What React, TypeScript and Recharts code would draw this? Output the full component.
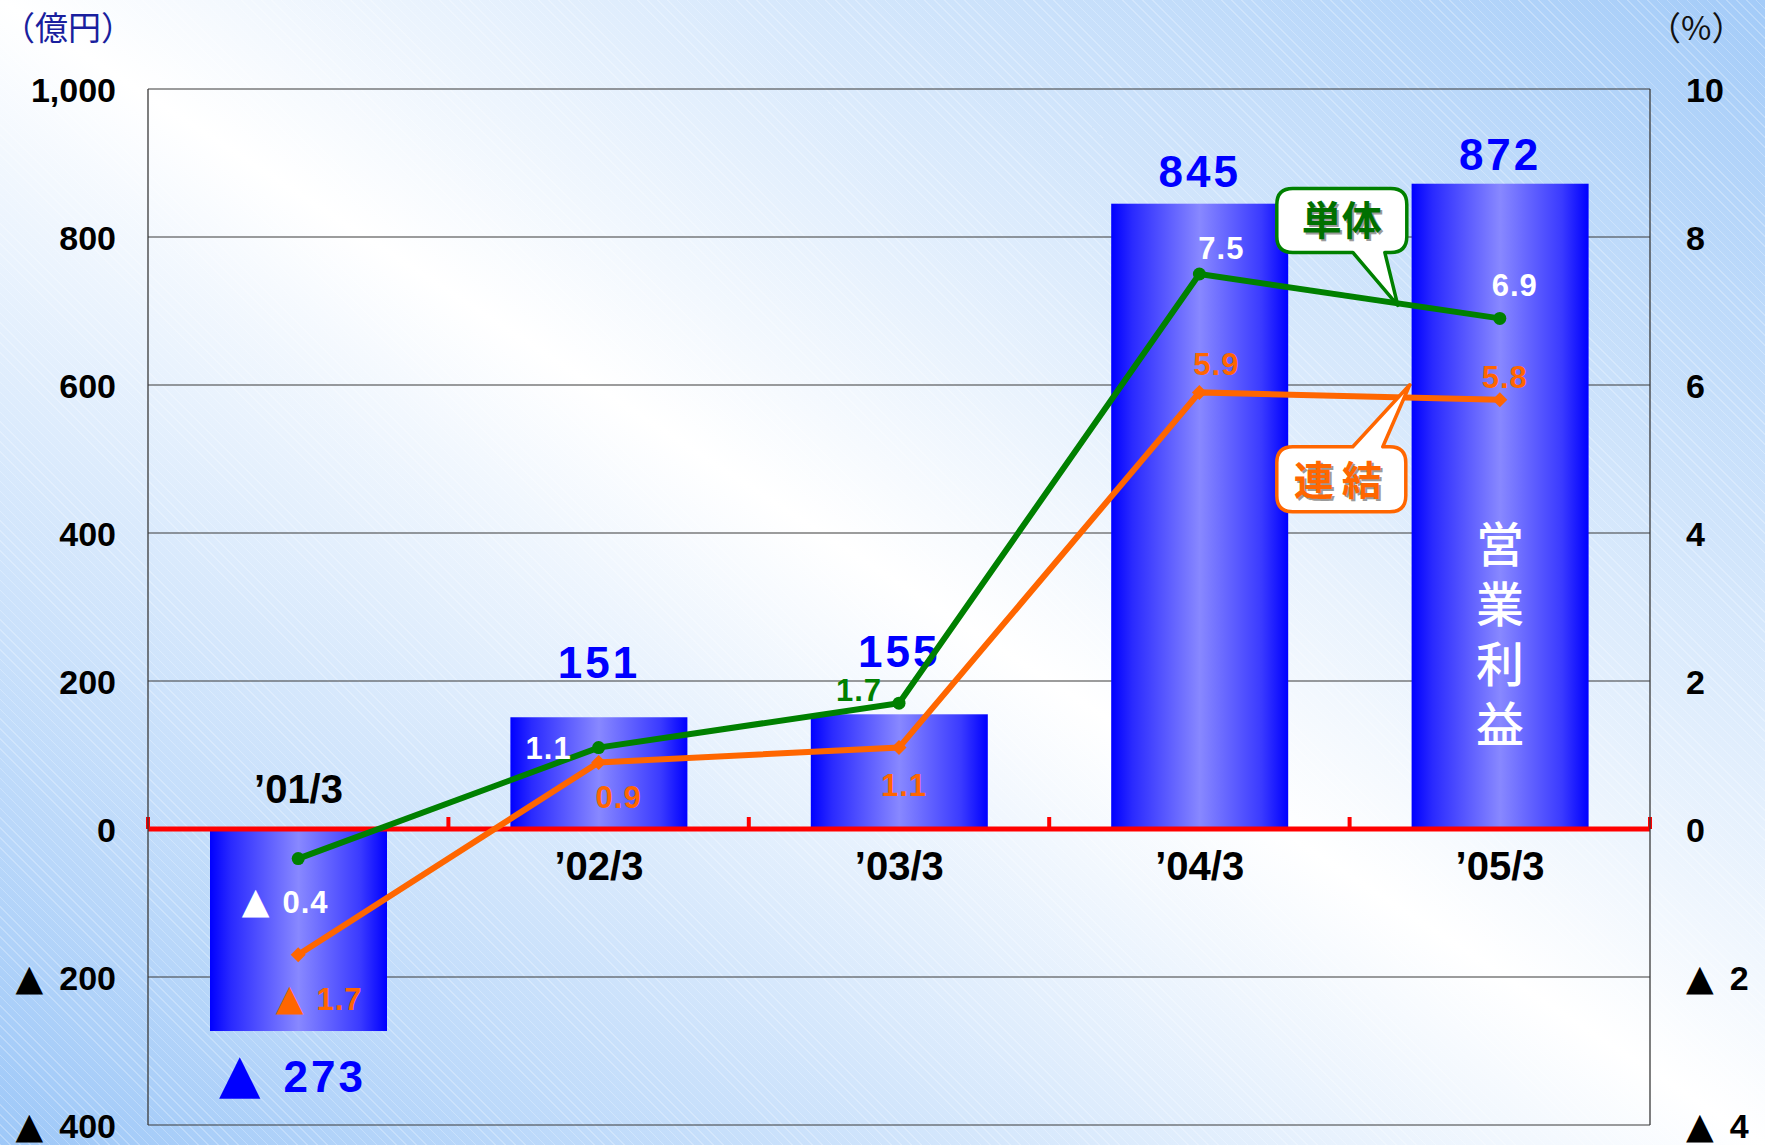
import React from "react";
import {
  ComposedChart,
  Bar,
  Line,
  XAxis,
  YAxis,
  CartesianGrid,
  ReferenceLine,
} from "recharts";

// 営業利益（億円）と営業利益率（%）
const categories = ["’01/3", "’02/3", "’03/3", "’04/3", "’05/3"];
const operatingProfit = [-273, 151, 155, 845, 872];
const marginStandalone = [-0.4, 1.1, 1.7, 7.5, 6.9]; // 単体
const marginConsolidated = [-1.7, 0.9, 1.1, 5.9, 5.8]; // 連結
const leftTicks = [-400, -200, 0, 200, 400, 600, 800, 1000];
const rightTicks = [-4, -2, 0, 2, 4, 6, 8, 10];

const data = categories.map((cat, i) => ({
  cat,
  profit: operatingProfit[i],
  tan: marginStandalone[i],
  ren: marginConsolidated[i],
}));

const GREEN = "#008000";
const ORANGE = "#ff6600";
const BLUE = "#0000ff";
const NUM = "'Liberation Sans', Arial, sans-serif";
const JP = "'Noto Sans CJK JP', sans-serif";
const TRI = "'DejaVu Sans', sans-serif";

// label nudges (centre of label relative to the point)
const greenNudge = [
  [-13, 43],
  [-50, 0],
  [-40, -13],
  [22, -26],
  [15, -33],
];
const orangeNudge = [
  [21, 44],
  [20, 35],
  [5, 37],
  [17, -28],
  [5, -23],
];
const barLabelLift = [45, 55, 63, 33, 30];

const fmt = (v: number) => v.toLocaleString("en-US");

const LeftTick = (props: any) => {
  const { x, y, payload } = props;
  const v = payload.value;
  return (
    <text x={x} y={y} dy={13} textAnchor="end" fontFamily={NUM} fontWeight="bold" fontSize={34} fill="#000">
      {v < 0 ? (
        <>
          <tspan fontFamily={TRI} fontSize={36}>▲</tspan>
          <tspan dx={16}>{fmt(-v)}</tspan>
        </>
      ) : (
        fmt(v)
      )}
    </text>
  );
};

const RightTick = (props: any) => {
  const { x, y, payload } = props;
  const v = payload.value;
  return (
    <text x={x} y={y} dy={13} textAnchor="start" fontFamily={NUM} fontWeight="bold" fontSize={34} fill="#000">
      {v < 0 ? (
        <>
          <tspan fontFamily={TRI} fontSize={36}>▲</tspan>
          <tspan dx={16}>{-v}</tspan>
        </>
      ) : (
        v
      )}
    </text>
  );
};

const ZeroLine = (p: any) => {
  const { x1, y1, x2 } = p;
  const n = categories.length;
  const step = (x2 - x1) / n;
  return (
    <g>
      <line x1={x1} y1={y1} x2={x2} y2={y1} stroke="#ff0000" strokeWidth={5} />
      {Array.from({ length: n + 1 }, (_, i) => (
        <line key={i} x1={x1 + i * step} x2={x1 + i * step} y1={y1} y2={y1 - 12} stroke="#ff0000" strokeWidth={4} />
      ))}
    </g>
  );
};

const ProfitBar = (p: any) => {
  const { x, y, width, height, index } = p;
  const v = operatingProfit[index];
  const top = Math.min(y, y + height);
  const bottom = Math.max(y, y + height);
  const zeroY = v >= 0 ? bottom : top;
  const cx = x + width / 2;
  const lift = barLabelLift[index];
  return (
    <g>
      <rect x={x} y={top} width={width} height={bottom - top} fill="url(#barGrad)" />
      {v >= 0 ? (
        <text x={cx} y={top - lift + 16} textAnchor="middle" fontFamily={NUM} fontWeight="bold" fontSize={44} letterSpacing={3} fill={BLUE}>
          {v}
        </text>
      ) : (
        <text x={cx - 6} y={bottom + lift + 16} textAnchor="middle" fontFamily={NUM} fontWeight="bold" fontSize={44} letterSpacing={3} fill={BLUE}>
          <tspan fontFamily={TRI} fontSize={54}>▲</tspan>
          <tspan dx={20}>{-v}</tspan>
        </text>
      )}
      <text
        x={cx}
        y={(v >= 0 ? zeroY + 37 : zeroY - 40) + 14}
        textAnchor="middle"
        fontFamily={NUM}
        fontWeight="bold"
        fontSize={40}
        fill="#000"
      >
        {categories[index]}
      </text>
      {index === categories.length - 1 &&
        "営業利益".split("").map((ch, i) => (
          <text
            key={i}
            x={cx}
            y={zeroY - 267 + i * 60}
            textAnchor="middle"
            fontFamily={JP}
            fontWeight={500}
            fontSize={48}
            fill="#fff"
          >
            {ch}
          </text>
        ))}
    </g>
  );
};

const ValueText = ({ x, y, v, color }: { x: number; y: number; v: number; color: string }) => (
  <text x={x} y={y + 11} textAnchor="middle" fontFamily={NUM} fontWeight="bold" fontSize={31} letterSpacing={1} fill={color}>
    {v < 0 ? (
      <>
        <tspan fontFamily={TRI} fontSize={36}>▲</tspan>
        <tspan dx={12}>{(-v).toFixed(1)}</tspan>
      </>
    ) : (
      v.toFixed(1)
    )}
  </text>
);

const bubble = (
  x0: number, y0: number, x1: number, y1: number, r: number,
  a: number, b: number, tx: number, ty: number, side: "top" | "bottom"
) =>
  side === "bottom"
    ? `M${x0 + r},${y0} H${x1 - r} Q${x1},${y0} ${x1},${y0 + r} V${y1 - r} Q${x1},${y1} ${x1 - r},${y1} H${b} L${tx},${ty} L${a},${y1} H${x0 + r} Q${x0},${y1} ${x0},${y1 - r} V${y0 + r} Q${x0},${y0} ${x0 + r},${y0} Z`
    : `M${x0 + r},${y0} H${a} L${tx},${ty} L${b},${y0} H${x1 - r} Q${x1},${y0} ${x1},${y0 + r} V${y1 - r} Q${x1},${y1} ${x1 - r},${y1} H${x0 + r} Q${x0},${y1} ${x0},${y1 - r} V${y0 + r} Q${x0},${y0} ${x0 + r},${y0} Z`;

const GreenDot = (p: any) => {
  const { cx, cy, index } = p;
  if (cx == null || cy == null) return <g key={`g${index}`} />;
  const [dx, dy] = greenNudge[index];
  return (
    <g key={`g${index}`}>
      <circle cx={cx} cy={cy} r={6.5} fill={GREEN} />
      <ValueText x={cx + dx} y={cy + dy} v={marginStandalone[index]} color={index === 2 ? GREEN : "#fff"} />
      {index === categories.length - 1 && (
        <g>
          <path
            d={bubble(cx - 223, cy - 130, cx - 93, cy - 66, 16, cx - 147, cx - 115, cx - 102, cy - 13, "bottom")}
            fill="#fff"
            stroke={GREEN}
            strokeWidth={3.5}
            strokeLinejoin="round"
          />
          <text x={cx - 156} y={cy - 81} textAnchor="middle" fontFamily={JP} fontWeight="bold" fontSize={40} fill="#9a9a9a">
            単体
          </text>
          <text x={cx - 158} y={cy - 83} textAnchor="middle" fontFamily={JP} fontWeight="bold" fontSize={40} fill="#007000">
            単体
          </text>
        </g>
      )}
    </g>
  );
};

const OrangeDot = (p: any) => {
  const { cx, cy, index } = p;
  if (cx == null || cy == null) return <g key={`o${index}`} />;
  const [dx, dy] = orangeNudge[index];
  const s = 7.5;
  return (
    <g key={`o${index}`}>
      <path d={`M${cx},${cy - s} L${cx + s},${cy} L${cx},${cy + s} L${cx - s},${cy} Z`} fill={ORANGE} />
      <ValueText x={cx + dx} y={cy + dy} v={marginConsolidated[index]} color={ORANGE} />
      {index === categories.length - 1 && (
        <g>
          <path
            d={bubble(cx - 223, cy + 47, cx - 94, cy + 112, 16, cx - 147, cx - 117, cx - 90, cy - 15, "top")}
            fill="#fff"
            stroke={ORANGE}
            strokeWidth={3.5}
            strokeLinejoin="round"
          />
          <text x={cx - 156} y={cy + 97} textAnchor="middle" fontFamily={JP} fontWeight="bold" fontSize={40} letterSpacing={8} fill="#9a9a9a">
            連結
          </text>
          <text x={cx - 158} y={cy + 95} textAnchor="middle" fontFamily={JP} fontWeight="bold" fontSize={40} letterSpacing={8} fill={ORANGE}>
            連結
          </text>
        </g>
      )}
    </g>
  );
};

export default function App() {
  return (
    <div
      style={{
        position: "absolute",
        left: 0,
        top: 0,
        width: 1765,
        height: 1145,
        overflow: "hidden",
        background: "linear-gradient(to top right, #9ec8f8 0%, #ffffff 50%, #a3cbf8 100%)",
      }}
    >
      <div
        style={{
          position: "absolute",
          inset: 0,
          backgroundImage:
            "repeating-linear-gradient(45deg, rgba(255,255,255,0.25) 0px, rgba(255,255,255,0.25) 1px, transparent 1px, transparent 7px)",
        }}
      />
      <svg width={0} height={0} style={{ position: "absolute" }}>
        <defs>
          <linearGradient id="barGrad" x1="0" y1="0" x2="1" y2="0">
            <stop offset="0" stopColor="#0000ff" />
            <stop offset="0.12" stopColor="#2a2aff" />
            <stop offset="0.5" stopColor="#8888ff" />
            <stop offset="0.85" stopColor="#3a3aff" />
            <stop offset="1" stopColor="#0000ff" />
          </linearGradient>
        </defs>
      </svg>
      <div style={{ position: "absolute", left: 2, top: 10, fontFamily: JP, fontSize: 33, lineHeight: 1, color: "#1a1f9e" }}>
        （億円）
      </div>
      <div style={{ position: "absolute", left: 1648, top: 10, fontFamily: JP, fontSize: 33, lineHeight: 1, color: "#111" }}>
        （%）
      </div>
      <div style={{ position: "absolute", left: 0, top: 0 }}>
        <ComposedChart width={1765} height={1145} data={data} margin={{ top: 89, right: 0, bottom: 20, left: 0 }}>
          <XAxis dataKey="cat" hide />
          <YAxis
            yAxisId="left"
            domain={[-400, 1000]}
            ticks={leftTicks}
            interval={0}
            width={148}
            tick={LeftTick}
            tickLine={false}
            tickSize={6}
            tickMargin={26}
            axisLine={{ stroke: "#3a3a3a", strokeWidth: 1.3 }}
            allowDataOverflow
          />
          <YAxis
            yAxisId="right"
            orientation="right"
            domain={[-4, 10]}
            ticks={rightTicks}
            interval={0}
            width={115}
            tick={RightTick}
            tickLine={false}
            tickSize={6}
            tickMargin={30}
            axisLine={{ stroke: "#3a3a3a", strokeWidth: 1.3 }}
            allowDataOverflow
          />
          <CartesianGrid yAxisId="left" vertical={false} stroke="#3a3a3a" strokeWidth={1.2} />
          <Bar yAxisId="left" dataKey="profit" barSize={177} shape={ProfitBar} isAnimationActive={false} />
          <ReferenceLine yAxisId="left" y={0} shape={ZeroLine} />
          <Line
            yAxisId="right"
            dataKey="ren"
            type="linear"
            stroke={ORANGE}
            strokeWidth={6}
            dot={OrangeDot}
            activeDot={false}
            isAnimationActive={false}
          />
          <Line
            yAxisId="right"
            dataKey="tan"
            type="linear"
            stroke={GREEN}
            strokeWidth={6}
            dot={GreenDot}
            activeDot={false}
            isAnimationActive={false}
          />
        </ComposedChart>
      </div>
    </div>
  );
}
